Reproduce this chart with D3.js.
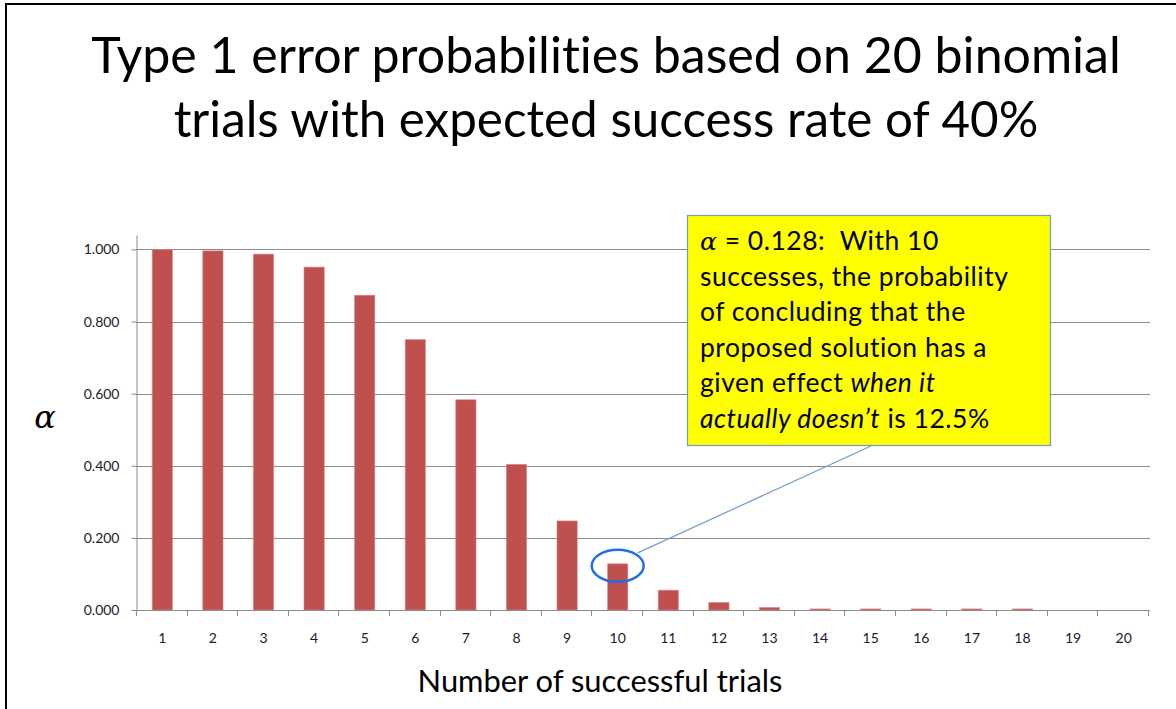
<!DOCTYPE html>
<html>
<head>
<meta charset="utf-8">
<script src="https://cdn.jsdelivr.net/npm/d3@7"></script>
<style>
  body { margin: 0; background: #fff; }
  text { font-family: Lato, "Open Sans", sans-serif; font-variant-ligatures: none; }
</style>
</head>
<body>
<svg width="1176" height="709"></svg>
<script>
const trials = [1, 2, 3, 4, 5, 6, 7, 8, 9, 10, 11, 12, 13, 14, 15, 16, 17, 18, 19, 20];
const alphas = [1.000, 0.996, 0.987, 0.951, 0.873, 0.750, 0.583, 0.404, 0.247, 0.128,
  0.055, 0.021, 0.007, 0.003, 0.003, 0.003, 0.003, 0.003, 0, 0];
const yTicks = [0, 0.2, 0.4, 0.6, 0.8, 1.0];
const titleLines = [
  "Type 1 error probabilities based on 20 binomial",
  "trials with expected success rate of 40%"
];
const calloutTrial = 10;

var svg = d3.select("svg"),
  width = +svg.attr("width"),
  height = +svg.attr("height");

// fit a text element to a target width by scaling its font size
function fit(sel, w) {
  var len = sel.node().getComputedTextLength();
  var fs = parseFloat(sel.attr("font-size"));
  sel.attr("font-size", fs * w / len);
  return sel;
}

// frame (top and left edges only)
svg.append("line").attr("x1", 5).attr("x2", width).attr("y1", 4).attr("y2", 4)
  .attr("stroke", "#000").attr("stroke-width", 2);
svg.append("line").attr("x1", 6).attr("x2", 6).attr("y1", 4).attr("y2", height)
  .attr("stroke", "#000").attr("stroke-width", 2);

// title
var titleBase = [73, 137], titleWidth = [1030, 865];
titleLines.forEach(function(t, i) {
  var tx = svg.append("text")
    .attr("x", 606)
    .attr("y", titleBase[i])
    .attr("text-anchor", "middle")
    .attr("font-size", 48)
    .attr("fill", "#000")
    .text(t);
  fit(tx, titleWidth[i]);
});

var x = d3.scaleBand()
  .domain(trials)
  .range([136, 1150])
  .paddingInner(0.6)
  .paddingOuter(0.32);

var y = d3.scaleLinear()
  .domain([0, 1.04])
  .range([610, 235]);

// gridlines
svg.append("g")
  .selectAll("line")
  .data(yTicks.slice(1))
  .enter()
  .append("line")
  .attr("x1", 136)
  .attr("x2", 1150)
  .attr("y1", d => Math.round(y(d)) + 0.5)
  .attr("y2", d => Math.round(y(d)) + 0.5)
  .attr("stroke", "#8c8c8c")
  .attr("stroke-width", 1);

// bars
svg.append("g")
  .selectAll("rect")
  .data(alphas)
  .enter()
  .append("rect")
  .attr("x", (d, i) => x(trials[i]))
  .attr("width", x.bandwidth())
  .attr("y", d => y(d))
  .attr("height", d => y(0) - y(d))
  .attr("fill", "#c0504d")
  .attr("stroke", d => d > 0 ? "#d98c8a" : "none")
  .attr("stroke-width", 0.6);

// y axis
var yAxis = svg.append("g")
  .attr("transform", "translate(136.5,0)")
  .call(d3.axisLeft(y).tickValues(yTicks).tickFormat(d3.format(".3f")).tickSize(5).tickSizeOuter(0));
yAxis.select(".domain").attr("stroke", "#8c8c8c");
yAxis.selectAll(".tick line").attr("stroke", "#8c8c8c");
yAxis.selectAll(".tick text")
  .attr("x", -17)
  .attr("font-family", "Lato, sans-serif")
  .attr("font-size", 14)
  .attr("fill", "#1a1a2a");

// x axis: line, ticks at category boundaries, labels
var step = x.step();
var xg = svg.append("g");
xg.append("line")
  .attr("x1", 136).attr("x2", 1150)
  .attr("y1", 610.5).attr("y2", 610.5)
  .attr("stroke", "#8c8c8c");
xg.selectAll("line.tk")
  .data(d3.range(trials.length + 1))
  .enter()
  .append("line")
  .attr("class", "tk")
  .attr("x1", i => Math.round(136 + i * step) + 0.5)
  .attr("x2", i => Math.round(136 + i * step) + 0.5)
  .attr("y1", 610)
  .attr("y2", 616)
  .attr("stroke", "#8c8c8c");
xg.selectAll("text")
  .data(trials)
  .enter()
  .append("text")
  .attr("x", d => x(d) + x.bandwidth() / 2)
  .attr("y", 643)
  .attr("text-anchor", "middle")
  .attr("font-size", 14)
  .attr("fill", "#1a1a2a")
  .text(d => d);

// axis titles
svg.append("text")
  .attr("x", 45)
  .attr("y", 428)
  .attr("text-anchor", "middle")
  .attr("font-style", "italic")
  .attr("font-size", 32)
  .attr("fill", "#000")
  .style("font-family", "'DejaVu Serif', serif")
  .text("α");

var xt = svg.append("text")
  .attr("x", 600)
  .attr("y", 692)
  .attr("text-anchor", "middle")
  .attr("font-size", 26)
  .attr("fill", "#000")
  .text("Number of successful trials");
fit(xt, 365);

// callout: ellipse on bar 10, leader line, yellow box
var ci = trials.indexOf(calloutTrial);
var cx = x(calloutTrial) + x.bandwidth() / 2,
  cy = y(alphas[ci]) + 2;
svg.append("line")
  .attr("x1", cx + 20).attr("y1", cy - 13)
  .attr("x2", 871).attr("y2", 446)
  .attr("stroke", "#6f9bd0")
  .attr("stroke-width", 1.2);
svg.append("ellipse")
  .attr("cx", cx)
  .attr("cy", cy)
  .attr("rx", 26)
  .attr("ry", 16)
  .attr("fill", "none")
  .attr("stroke", "#1f6fe6")
  .attr("stroke-width", 2.5);

svg.append("rect")
  .attr("x", 687.5).attr("y", 215.5)
  .attr("width", 363).attr("height", 230)
  .attr("fill", "#ffff00")
  .attr("stroke", "#6f9bd0")
  .attr("stroke-width", 1.2);

const calloutLines = [
  [["α", "alpha"], [" = 0.128:\u00a0 With 10", ""]],
  [["successes, the probability", ""]],
  [["of concluding that the", ""]],
  [["proposed solution has a", ""]],
  [["given effect ", ""], ["when it", "i"]],
  [["actually doesn’t", "i"], [" is 12.5%", ""]]
];
var cg = svg.append("g");
calloutLines.forEach(function(parts, i) {
  var t = cg.append("text")
    .attr("x", 700)
    .attr("y", 250 + i * 35.5)
    .attr("font-size", 26.5)
    .attr("letter-spacing", 0.5)
    .attr("fill", "#000");
  parts.forEach(function(p) {
    var ts = t.append("tspan").text(p[0]);
    if (p[1] === "i") ts.attr("font-style", "italic");
    if (p[1] === "alpha") ts.attr("font-style", "italic").attr("font-size", 25).style("font-family", "'DejaVu Serif', serif");
  });
});
</script>
</body>
</html>
